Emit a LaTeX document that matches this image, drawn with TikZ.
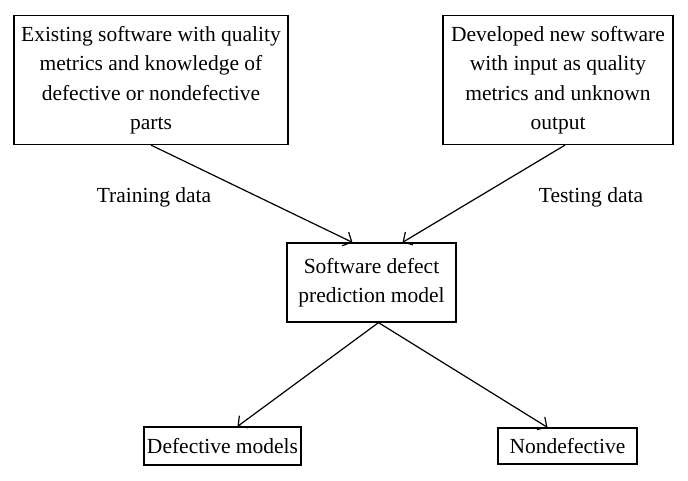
\documentclass[tikz,border=0pt]{standalone}
\usepackage{fontspec}
\setmainfont{Liberation Serif}
\usetikzlibrary{arrows.meta}

\begin{document}
\begin{tikzpicture}[x=1pt,y=-1pt,line width=1.2pt]
    %
    % `block' is used for the boxes, `label' for the free texts.
    % `flow' is used for the arrows between the boxes.
    \tikzstyle{block} = [draw,fill=white,align=center,inner sep=2pt,font=\fontsize{21.5}{29.5}\selectfont]
    \tikzstyle{label} = [font=\fontsize{21.5}{29.5}\selectfont]
    \tikzstyle{flow} = [-{Straight Barb[length=7pt,width=15pt]},line width=1.2pt]
    %
    \useasboundingbox (0,0) rectangle (688,480);
    %
    % Inputs
    \node[block,minimum width=274pt,minimum height=129pt] (train) at (151,80)
        {Existing software with quality\\ metrics and knowledge of\\ defective or nondefective\\ parts};
    \node[block,minimum width=230pt,minimum height=129pt] (test) at (558,80)
        {Developed new software\\ with input as quality\\ metrics and unknown\\ output};
    %
    % Model
    \node[block,minimum width=169pt,minimum height=79pt] (model) at (371.5,282.5)
        {Software defect\\ prediction model};
    %
    % Outputs
    \node[block,minimum width=157pt,minimum height=38pt] (def) at (222.5,446) {Defective models};
    \node[block,minimum width=139pt,minimum height=36pt] (nondef) at (567.5,446) {Nondefective};
    %
    % Labels
    \node[label] (trainlbl) at (154,197) {Training data};
    \node[label] (testlbl) at (591,197) {Testing data};
    %
    % Arrows
    \draw[flow] (train.south) -- ([xshift=-19pt]model.north);
    \draw[flow] ([xshift=7pt]test.south) -- ([xshift=31pt]model.north);
    \draw[flow] ([xshift=7pt]model.south) -- ([xshift=15pt]def.north);
    \draw[flow] ([xshift=7pt]model.south) -- ([xshift=-20pt]nondef.north);
    %
\end{tikzpicture}
\end{document}
